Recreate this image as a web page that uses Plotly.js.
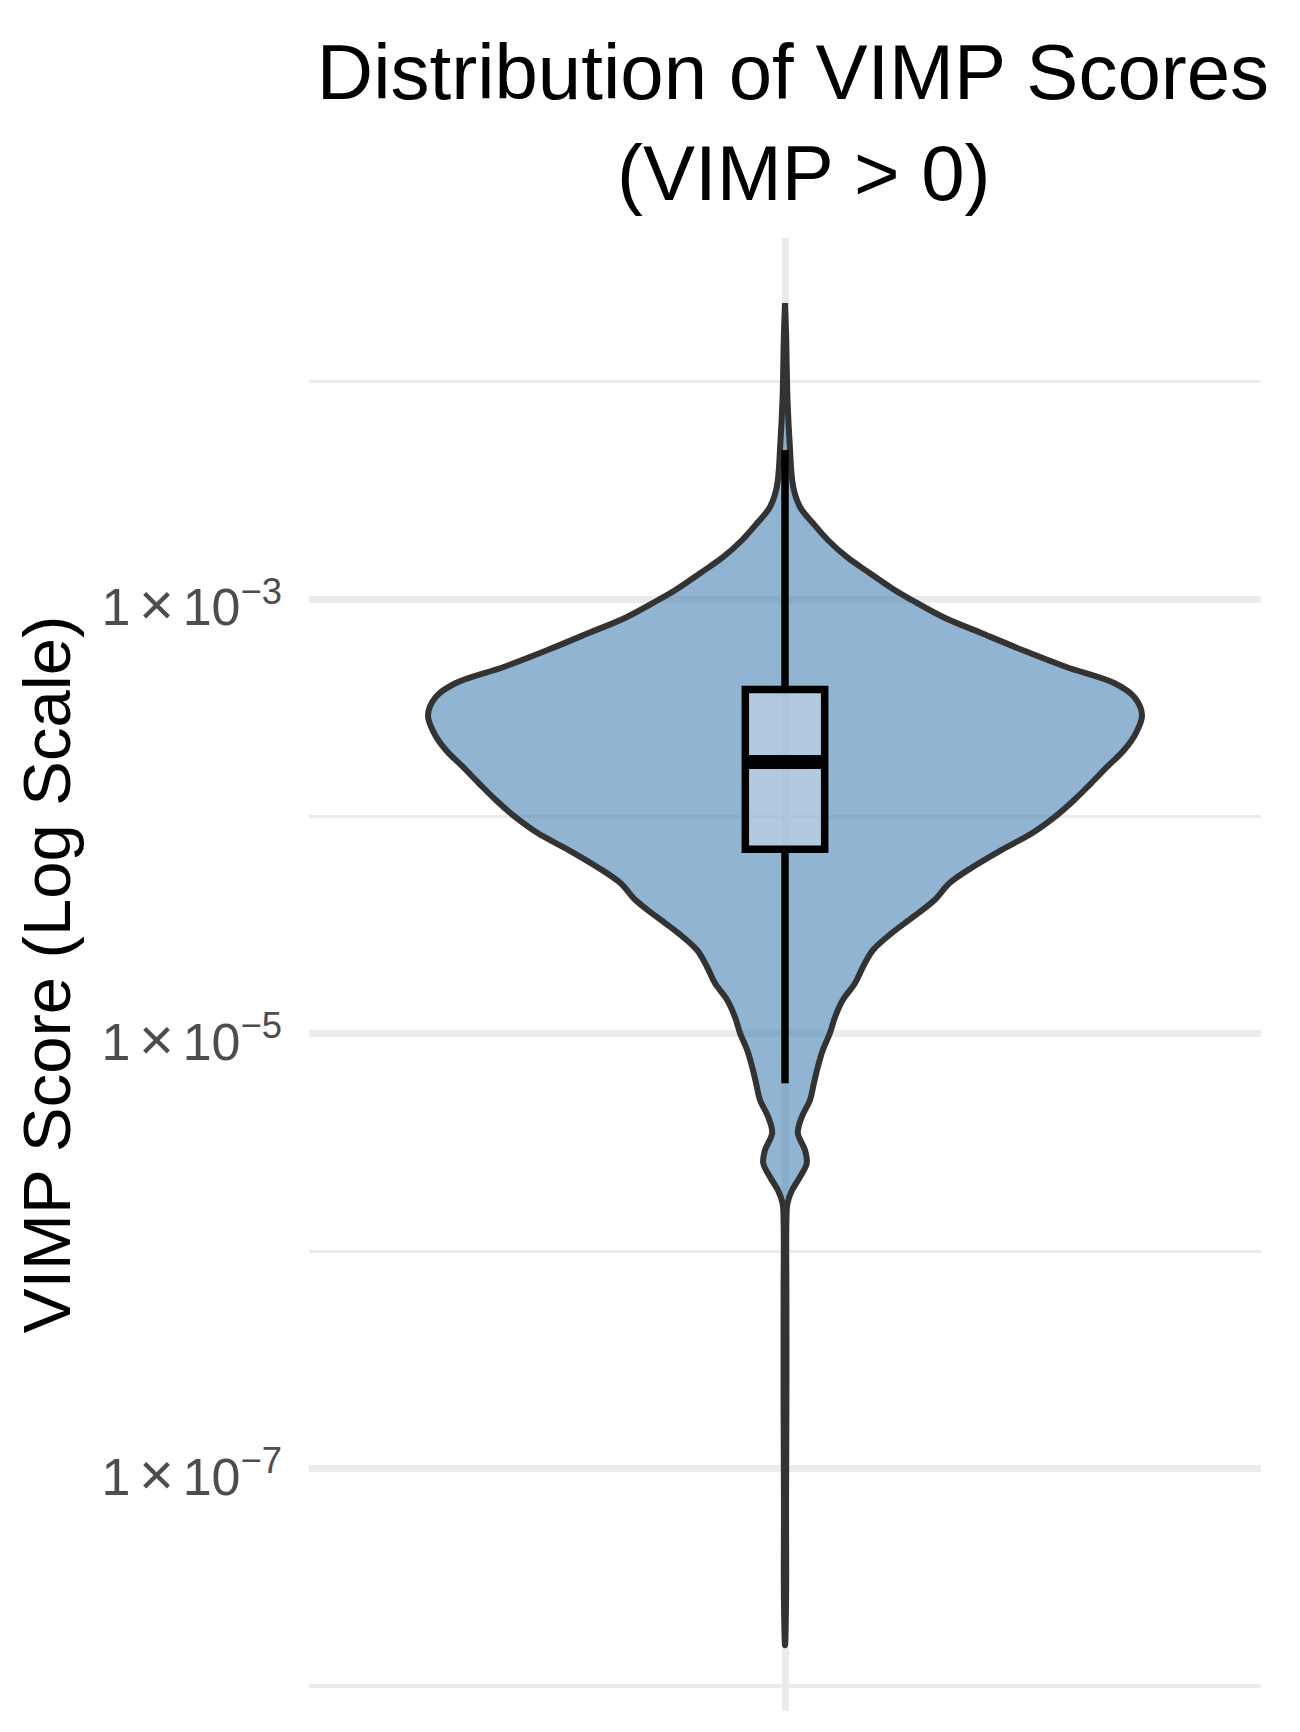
<!DOCTYPE html>
<html>
<head>
<meta charset="utf-8">
<script src="https://cdn.plot.ly/plotly-3.0.1.min.js"></script>
<style>
  html, body { margin: 0; padding: 0; background: #ffffff; }
  #chart { width: 1300px; height: 1732px; }
</style>
</head>
<body>
<div id="chart"></div>
<script>
// ---------- data ----------
const chartTitle = 'Distribution of VIMP Scores<br>\u00a0(VIMP > 0)';
const yAxisTitle = 'VIMP Score (Log Scale)';
const category = 1;

const yTickVals = [1e-3, 1e-5, 1e-7];
const yTickText = [
  '1\u2006<span style="font-size:60px">\u00d7</span>\u200610<sup>\u22123</sup>',
  '1\u2006<span style="font-size:60px">\u00d7</span>\u200610<sup>\u22125</sup>',
  '1\u2006<span style="font-size:60px">\u00d7</span>\u200610<sup>\u22127</sup>'
];
const yMinorVals = [1e-2, 1e-4, 1e-6, 1e-8];

// violin outline: log10(VIMP) levels (bottom -> top) and relative density (max = 1)
const violinLog10 = [
  -7.812, -7.605, -7.145, -6.685, -6.225, -5.857, -5.778, -5.718, -5.658, -5.594,
  -5.534, -5.456, -5.382, -5.304, -5.226, -5.152, -5.074, -4.996, -4.923, -4.844,
  -4.767, -4.693, -4.615, -4.536, -4.463, -4.384, -4.306, -4.233, -4.154, -4.076,
  -4.003, -3.924, -3.846, -3.772, -3.694, -3.616, -3.533, -3.450, -3.386, -3.312,
  -3.234, -3.156, -3.083, -3.004, -2.958, -2.880, -2.806, -2.728, -2.650, -2.576,
  -2.484, -2.282, -2.084, -1.776, -1.638
];
const violinDensity = [
  0.000, 0.003, 0.003, 0.004, 0.004, 0.004, 0.007, 0.020, 0.042, 0.061,
  0.056, 0.036, 0.047, 0.070, 0.081, 0.092, 0.106, 0.126, 0.140, 0.162,
  0.196, 0.218, 0.246, 0.299, 0.358, 0.419, 0.461, 0.525, 0.606, 0.693,
  0.755, 0.810, 0.858, 0.902, 0.950, 0.983, 1.000, 0.978, 0.922, 0.788,
  0.665, 0.550, 0.444, 0.355, 0.307, 0.237, 0.173, 0.120, 0.078, 0.042,
  0.023, 0.013, 0.007, 0.003, 0.000
];

// box-plot statistics (VIMP values)
const boxQ1 = [7.08e-5];
const boxMedian = [1.78e-4];
const boxQ3 = [3.84e-4];
const boxLowerWhisker = [5.94e-6];
const boxUpperWhisker = [4.85e-3];

// ---------- styling ----------
const FONT = 'Liberation Sans, Arial, Helvetica, sans-serif';
const VIOLIN_HALF = 0.45;   // violin width 0.9
const BOX_WIDTH = 0.1;
const X_RANGE = [0.4, 1.6];
const Y_RANGE = [-8.114, -1.339];
const GRID = '#EBEBEB';

const violinY = violinLog10.map(v => Math.pow(10, v));
const rightX = violinDensity.map(d => category + VIOLIN_HALF * d);
const leftX = violinDensity.map(d => category - VIOLIN_HALF * d);
const outlineX = rightX.concat(leftX.slice().reverse());
const outlineY = violinY.concat(violinY.slice().reverse());

const traces = [
  {
    type: 'scatter', mode: 'lines',
    x: outlineX, y: outlineY,
    fill: 'toself', fillcolor: 'rgba(70,130,180,0.6)',
    line: { color: '#333333', width: 6, shape: 'spline', smoothing: 1 },
    hoverinfo: 'skip', showlegend: false,
    xaxis: 'x', yaxis: 'y'
  },
  {
    type: 'box',
    x: [category],
    q1: boxQ1, median: boxMedian, q3: boxQ3,
    lowerfence: boxLowerWhisker, upperfence: boxUpperWhisker,
    width: BOX_WIDTH, whiskerwidth: 0,
    fillcolor: 'rgba(255,255,255,0.3)',
    line: { color: '#000000', width: 7.5 },
    boxpoints: false, hoverinfo: 'skip', showlegend: false,
    xaxis: 'x2', yaxis: 'y2'
  },
  {
    type: 'scatter', mode: 'lines',
    x: [category - BOX_WIDTH / 2, category + BOX_WIDTH / 2],
    y: [boxMedian[0], boxMedian[0]],
    line: { color: '#000000', width: 14 },
    hoverinfo: 'skip', showlegend: false,
    xaxis: 'x2', yaxis: 'y2'
  }
];

const layout = {
  width: 1300, height: 1732,
  paper_bgcolor: '#ffffff', plot_bgcolor: '#ffffff',
  margin: { l: 309, r: 39, t: 238, b: 21, pad: 0 },
  showlegend: false,
  title: {
    text: chartTitle,
    font: { family: FONT, size: 78, color: '#000000' },
    x: (793 - 309) / 952, xref: 'paper', xanchor: 'center',
    y: 1 - 99 / 1732, yref: 'container', yanchor: 'top'
  },
  xaxis: {
    range: X_RANGE, tickmode: 'array', tickvals: [category],
    showticklabels: false, ticks: '',
    showgrid: true, gridcolor: GRID, gridwidth: 7,
    zeroline: false, showline: false, fixedrange: true
  },
  yaxis: {
    type: 'log', range: Y_RANGE,
    tickmode: 'array', tickvals: yTickVals, ticktext: yTickText,
    ticks: '', ticklabelstandoff: 26, ticklabelshift: 8,
    tickfont: { family: FONT, size: 52, color: '#4D4D4D' },
    showgrid: true, gridcolor: GRID, gridwidth: 7,
    minor: { tickmode: 'array', tickvals: yMinorVals, showgrid: true, gridcolor: GRID, gridwidth: 3.5, ticks: '' },
    zeroline: false, showline: false, automargin: false,
    title: { text: yAxisTitle, font: { family: FONT, size: 67, color: '#000000' }, standoff: 8 }
  },
  xaxis2: { overlaying: 'x', range: X_RANGE, visible: false, fixedrange: true },
  yaxis2: { overlaying: 'y', type: 'log', range: Y_RANGE, visible: false, fixedrange: true }
};

Plotly.newPlot('chart', traces, layout, { staticPlot: true, displayModeBar: false });
</script>
</body>
</html>
